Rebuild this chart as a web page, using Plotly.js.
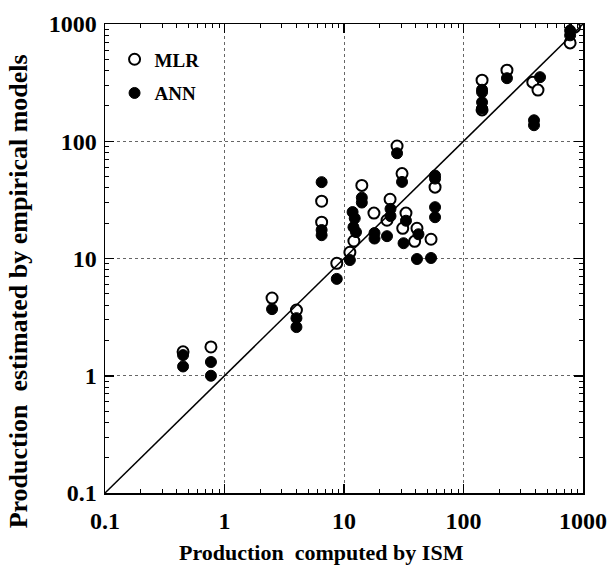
<!DOCTYPE html>
<html>
<head>
<meta charset="utf-8">
<script src="https://cdn.plot.ly/plotly-3.0.1.min.js"></script>
<style>html,body{margin:0;padding:0;background:#fff;}#chart{width:608px;height:567px;}</style>
</head>
<body>
<div id="chart"></div>
<script>
// MLR (open circles): production computed by ISM vs estimated
const mlrX = [0.45, 0.77, 2.5, 4.0, 8.7, 6.5, 6.5, 11.2, 12.1, 14.1, 17.8, 22.9, 24.3, 27.8, 30.6, 33, 31, 40.8, 39, 53.5, 57.8, 143, 143, 231, 380, 420, 780, 850];
const mlrY = [1.6, 1.76, 4.6, 3.63, 9.1, 30.8, 20.4, 11.3, 14.1, 42, 24.4, 21.2, 32, 91, 53, 24.4, 18.1, 18.1, 14, 14.6, 40.6, 332, 185, 404, 319, 273, 690, 940];
// ANN (filled circles)
const annX = [0.45, 0.45, 0.77, 0.77, 2.5, 4.0, 4.0, 8.7, 6.5, 6.5, 6.5, 11.2, 11.8, 12.3, 12.0, 12.6, 14.1, 14.1, 18, 18, 22.9, 24.5, 24.5, 27.8, 30.6, 33, 31.5, 42, 40.8, 53.5, 57.8, 57.8, 57.8, 57.8, 143, 143, 143, 143, 231, 437, 389, 389, 780, 780];
const annY = [1.5, 1.2, 1.31, 1.0, 3.7, 3.1, 2.6, 6.7, 44.8, 17.5, 15.8, 9.7, 24.9, 22, 18.5, 16.8, 33, 30, 16.5, 14.8, 15.5, 26.5, 23, 79, 45, 21, 13.5, 16.1, 9.9, 10.1, 51, 48, 27.4, 22.5, 275, 262, 215, 190, 345, 352, 151, 137, 880, 800];
// 1:1 line
const lineX = [0.1, 1000];
const lineY = [0.1, 1000];
const tickVals = [0.1, 1, 10, 100, 1000];
const tickText = ['0.1', '1', '10', '100', '1000'];
const xTitle = 'Production  computed by ISM';
const yTitle = 'Production  estimated by empirical models';

const FAM = 'Liberation Serif';
function f(size) { return {family: FAM, size: size, color: '#000', weight: 'bold'}; }

const traces = [
  {x: lineX, y: lineY, xaxis: 'x2', yaxis: 'y2', mode: 'lines', line: {color: '#000', width: 1.5}, showlegend: false, hoverinfo: 'skip'},
  {x: lineX, y: lineY, xaxis: 'x3', yaxis: 'y3', mode: 'lines', line: {color: 'rgba(0,0,0,0)', width: 0}, showlegend: false, hoverinfo: 'skip'},
  {x: lineX, y: lineY, xaxis: 'x4', yaxis: 'y4', mode: 'lines', line: {color: 'rgba(0,0,0,0)', width: 0}, showlegend: false, hoverinfo: 'skip'},
  {x: mlrX, y: mlrY, name: 'MLR', legendgroup: 'a', mode: 'markers', type: 'scatter',
   marker: {symbol: 'circle', size: 11, color: '#fff', line: {color: '#000', width: 2}}},
  {x: annX, y: annY, name: 'ANN', legendgroup: 'b', mode: 'markers', type: 'scatter',
   marker: {symbol: 'circle', size: 11, color: '#000', line: {color: '#000', width: 1}}}
];

function ax() {
  return {
    type: 'log', range: [-1, 3], autorange: false,
    tickmode: 'array', tickvals: tickVals, ticktext: tickText,
    ticks: 'inside', ticklen: 9, tickwidth: 1.5, tickcolor: '#000',
    showgrid: true, gridcolor: '#666', griddash: 'dot', gridwidth: 1,
    showline: true, linecolor: '#000', linewidth: 1.5, mirror: true,
    zeroline: false,
    tickfont: f(24)
  };
}
function extraAx(over, side, major) {
  const a = {
    type: 'log', range: [-1, 3], autorange: false, overlaying: over, side: side,
    ticks: 'inside', tickcolor: '#000',
    showticklabels: false, showgrid: false, showline: false, zeroline: false, mirror: false
  };
  if (major) {
    Object.assign(a, {tickmode: 'array', tickvals: tickVals, ticklen: 9, tickwidth: 1.5});
  } else {
    Object.assign(a, {tickmode: 'linear', tick0: 0, dtick: 'D1', ticklen: 4, tickwidth: 1});
  }
  return a;
}

const layout = {
  width: 608, height: 567,
  margin: {l: 105, r: 25, t: 24, b: 74},
  paper_bgcolor: '#fff', plot_bgcolor: '#fff',
  xaxis: Object.assign(ax(), {ticklabelstandoff: 6}),
  yaxis: Object.assign(ax(), {ticklabelstandoff: 2}),
  xaxis2: extraAx('x', 'bottom', false),
  yaxis2: extraAx('y', 'left', false),
  xaxis3: extraAx('x', 'top', false),
  yaxis3: extraAx('y', 'right', false),
  xaxis4: extraAx('x', 'top', true),
  yaxis4: extraAx('y', 'right', true),
  showlegend: true,
  legend: {x: 0.02, y: 0.965, xanchor: 'left', yanchor: 'top', bgcolor: 'rgba(0,0,0,0)', borderwidth: 0,
           font: f(19), tracegroupgap: 6},
  annotations: [
    {text: xTitle, xref: 'paper', yref: 'paper', x: 0.452, y: -0.127, xanchor: 'center', yanchor: 'middle',
     showarrow: false, font: f(22)},
    {text: yTitle, xref: 'paper', yref: 'paper', x: -0.182, y: 0.43, xanchor: 'center', yanchor: 'middle',
     textangle: -90, showarrow: false, font: f(26)}
  ]
};

Plotly.newPlot('chart', traces, layout, {displayModeBar: false, staticPlot: true});
</script>
</body>
</html>
